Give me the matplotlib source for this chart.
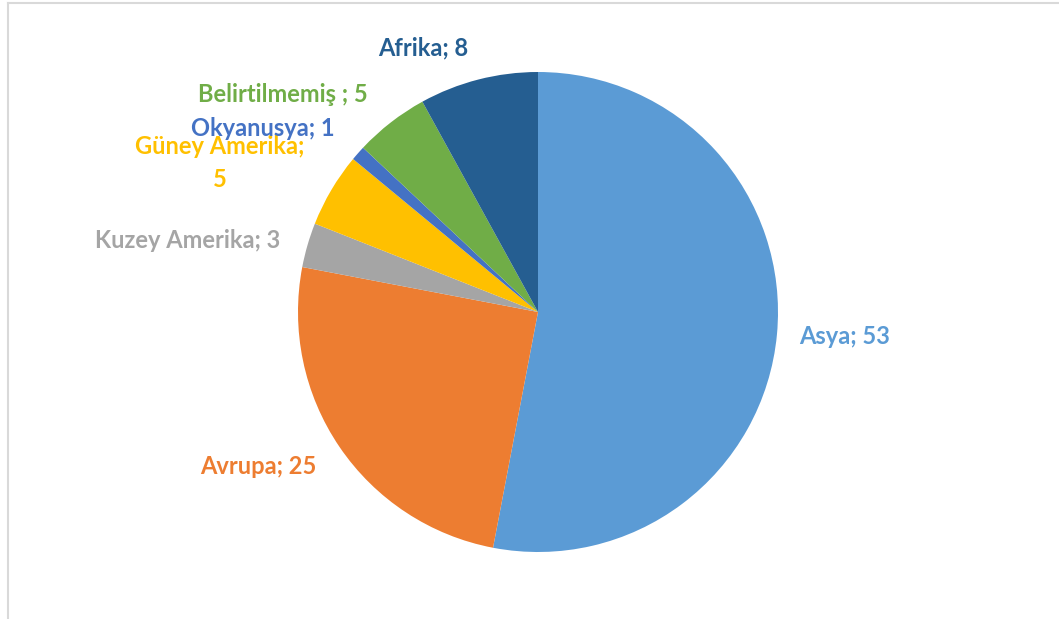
import matplotlib
matplotlib.use('Agg')
import matplotlib.pyplot as plt
from matplotlib.lines import Line2D

# Chart data
regions = ['Asya', 'Avrupa', 'Kuzey Amerika', 'Güney Amerika', 'Okyanusya', 'Belirtilmemiş ', 'Afrika']
values = [53, 25, 3, 5, 1, 5, 8]
colors = ['#5B9BD5', '#ED7D31', '#A5A5A5', '#FFC000', '#4472C4', '#70AD47', '#255E91']

# Label placement (pixels from top-left)
label_pos = [(845, 337), (258, 467), (188, 240), (220, 163), (263, 129), (283, 95), (423, 48)]

W, H = 1059, 619
fig = plt.figure(figsize=(W / 100, H / 100), dpi=100)
ax = fig.add_axes([0, 0, 1, 1])

ax.pie(values, colors=colors, startangle=90, counterclock=False,
       center=(538, H - 312), radius=240, frame=True,
       wedgeprops=dict(linewidth=0))
ax.set_xlim(0, W)
ax.set_ylim(0, H)
ax.set_aspect('equal')
ax.axis('off')

for name, val, col, (px, py) in zip(regions, values, colors, label_pos):
    if name == 'Güney Amerika':
        txt = f'{name};\n{val}'
    else:
        txt = f'{name}; {val}'
    ax.text(px, H - py, txt, color=col, fontsize=17, fontweight='bold',
            family=['Lato', 'DejaVu Sans'], ha='center', va='center',
            linespacing=1.5)

# Light frame at top and left
fig.add_artist(Line2D([8 / W, 1], [1 - 3 / H, 1 - 3 / H], color='#d9d9d9', lw=1.5))
fig.add_artist(Line2D([8 / W, 8 / W], [0, 1 - 3 / H], color='#d9d9d9', lw=1.5))

fig.savefig('out.png', dpi=100, facecolor='white')
